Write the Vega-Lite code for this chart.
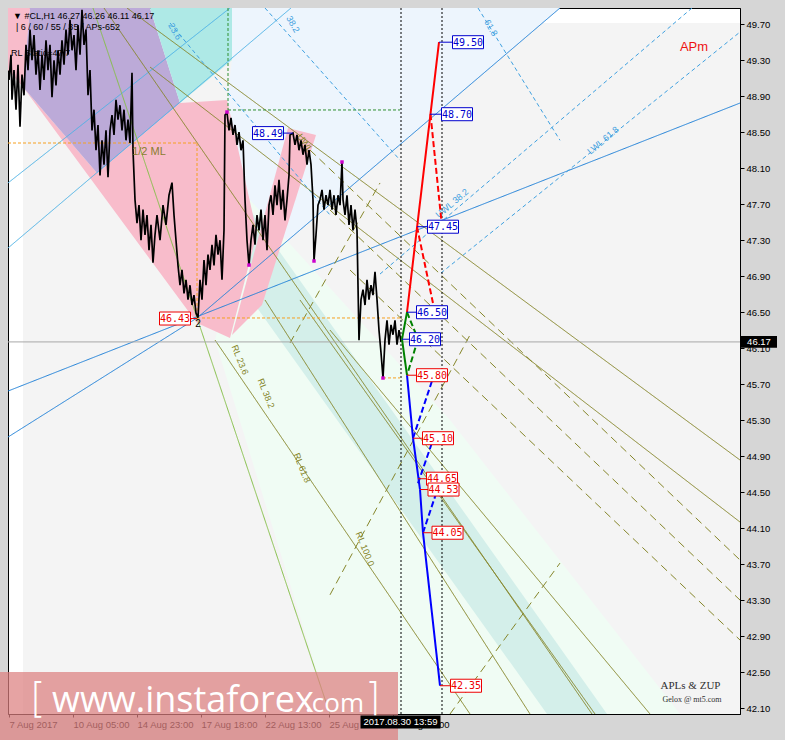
{
"$schema": "https://vega.github.io/schema/vega-lite/v6.json",
"width": 732, "height": 706,
"autosize": "none",
"padding": {"left": 8, "top": 8, "right": 45, "bottom": 26},
"background": "#d6d6d6",
"config": {"view": {"fill": "#ffffff", "stroke": "#000000", "strokeWidth": 1}, "font": "Liberation Sans"},
"resolve": {"scale": {"color": "independent", "strokeDash": "independent", "stroke": "independent"}},
"datasets": {
"bg": [{"bar": 15, "bar2": 732, "price": 49.713, "price2": 42.036}],
"polys": [
{"p":"a","z":"lblue","i":1,"bar":224,"price":49.88},{"p":"a","z":"lblue","i":2,"bar":552,"price":49.88},{"p":"a","z":"lblue","i":3,"bar":189,"price":46.436},{"p":"a","z":"lblue","i":4,"bar":249,"price":47.38},{"p":"a","z":"lblue","i":5,"bar":219,"price":48.858},{"p":"a","z":"lblue","i":6,"bar":224,"price":49.302},
{"p":"b","z":"hdew","i":1,"bar":207,"price":46.191},{"p":"b","z":"hdew","i":2,"bar":242,"price":47.747},{"p":"b","z":"hdew","i":3,"bar":442,"price":45.302},{"p":"b","z":"hdew","i":4,"bar":672,"price":42.036},{"p":"b","z":"hdew","i":5,"bar":322,"price":42.036},
{"p":"c","z":"teal","i":1,"bar":242,"price":47.636},{"p":"c","z":"teal","i":2,"bar":599,"price":42.036},{"p":"c","z":"teal","i":3,"bar":539,"price":42.036},{"p":"c","z":"teal","i":4,"bar":242,"price":46.658},
{"p":"d","z":"pink","i":1,"bar":0,"price":49.88},{"p":"d","z":"pink","i":2,"bar":22,"price":49.88},{"p":"d","z":"pink","i":3,"bar":15,"price":49.002},{"p":"d","z":"pink","i":4,"bar":0,"price":49.191},
{"p":"e","z":"pink","i":1,"bar":15,"price":49.002},{"p":"e","z":"pink","i":2,"bar":89,"price":48.047},{"p":"e","z":"pink","i":3,"bar":172,"price":48.824},{"p":"e","z":"pink","i":4,"bar":219,"price":48.858},{"p":"e","z":"pink","i":5,"bar":249,"price":47.38},{"p":"e","z":"pink","i":6,"bar":222,"price":46.213},{"p":"e","z":"pink","i":7,"bar":189,"price":46.38},
{"p":"f","z":"purple","i":1,"bar":22,"price":49.88},{"p":"f","z":"purple","i":2,"bar":142,"price":49.88},{"p":"f","z":"purple","i":3,"bar":172,"price":48.824},{"p":"f","z":"purple","i":4,"bar":89,"price":48.047},{"p":"f","z":"purple","i":5,"bar":15,"price":49.002},
{"p":"g","z":"cyan","i":1,"bar":142,"price":49.88},{"p":"g","z":"cyan","i":2,"bar":224,"price":49.88},{"p":"g","z":"cyan","i":3,"bar":224,"price":49.302},{"p":"g","z":"cyan","i":4,"bar":172,"price":48.824},
{"p":"h","z":"pink","i":1,"bar":280,"price":48.547},{"p":"h","z":"pink","i":2,"bar":308,"price":48.469},{"p":"h","z":"pink","i":3,"bar":254,"price":46.58},{"p":"h","z":"pink","i":4,"bar":224,"price":46.247}
],
"segs": [
{"k":"b","bar":0,"price":45.624,"bar2":732,"price2":48.824},
{"k":"b","bar":189,"price":46.436,"bar2":552,"price2":49.88},
{"k":"b","bar":0,"price":45.113,"bar2":189,"price2":46.436},
{"k":"c","bar":0,"price":47.936,"bar2":222,"price2":49.88},
{"k":"c","bar":0,"price":47.213,"bar2":283,"price2":49.88},
{"k":"bd","bar":372,"price":46.924,"bar2":684,"price2":49.88},
{"k":"bd","bar":433,"price":46.936,"bar2":732,"price2":49.613},
{"k":"bd","bar":162,"price":49.713,"bar2":322,"price2":47.58},
{"k":"bd","bar":257,"price":49.88,"bar2":392,"price2":48.19},
{"k":"bd","bar":470,"price":49.88,"bar2":552,"price2":48.41},
{"k":"o","bar":119,"price":49.88,"bar2":732,"price2":44.858},
{"k":"o","bar":142,"price":49.224,"bar2":732,"price2":44.169},
{"k":"o","bar":96,"price":49.88,"bar2":584,"price2":42.036},
{"k":"g","bar":85,"price":49.88,"bar2":322,"price2":42.036},
{"k":"o","bar":207,"price":46.191,"bar2":462,"price2":42.036},
{"k":"o","bar":257,"price":46.636,"bar2":522,"price2":42.036},
{"k":"o","bar":292,"price":46.636,"bar2":587,"price2":42.036},
{"k":"o","bar":322,"price":46.302,"bar2":642,"price2":42.036},
{"k":"od","bar":302,"price":48.302,"bar2":732,"price2":43.747},
{"k":"od","bar":322,"price":47.636,"bar2":732,"price2":43.302},
{"k":"od","bar":342,"price":46.969,"bar2":732,"price2":42.858},
{"k":"od","bar":322,"price":43.36,"bar2":462,"price2":46.247},
{"k":"od","bar":442,"price":42.036,"bar2":552,"price2":43.713},
{"k":"od","bar":282,"price":46.158,"bar2":372,"price2":47.936},
{"k":"or","bar":0,"price":48.38,"bar2":189,"price2":48.38},
{"k":"or","bar":189,"price":48.38,"bar2":189,"price2":46.436},
{"k":"or","bar":189,"price":46.436,"bar2":392,"price2":46.436},
{"k":"or","bar":375,"price":45.77,"bar2":392,"price2":45.77},
{"k":"gd","bar":220,"price":49.88,"bar2":220,"price2":48.747},
{"k":"gd","bar":220,"price":48.747,"bar2":392,"price2":48.747},
{"k":"k","bar":393,"price":49.88,"bar2":393,"price2":42.036},
{"k":"k","bar":434,"price":49.88,"bar2":434,"price2":42.036},
{"k":"gr","bar":0,"price":46.17,"bar2":732,"price2":46.17}
],
"px": [
{"bar":1,"price":49.08},{"bar":3,"price":49.36},{"bar":4,"price":48.86},{"bar":6,"price":49.19},{"bar":8,"price":48.75},{"bar":10,"price":49.25},{"bar":12,"price":48.56},{"bar":14,"price":49.14},{"bar":16,"price":48.91},{"bar":18,"price":49.47},{"bar":20,"price":49.19},{"bar":22,"price":49.64},{"bar":24,"price":49.30},{"bar":26,"price":49.58},{"bar":28,"price":49.14},{"bar":30,"price":49.41},{"bar":32,"price":48.97},{"bar":34,"price":49.36},{"bar":36,"price":49.08},{"bar":38,"price":49.52},{"bar":40,"price":49.19},{"bar":42,"price":49.47},{"bar":44,"price":48.89},{"bar":46,"price":49.30},{"bar":48,"price":49.02},{"bar":50,"price":49.41},{"bar":52,"price":49.14},{"bar":54,"price":49.52},{"bar":56,"price":49.25},{"bar":58,"price":49.64},{"bar":60,"price":49.36},{"bar":62,"price":49.75},{"bar":64,"price":49.41},{"bar":66,"price":49.58},{"bar":68,"price":49.19},{"bar":70,"price":49.69},{"bar":72,"price":49.36},{"bar":74,"price":49.86},{"bar":76,"price":49.47},{"bar":78,"price":49.64},{"bar":80,"price":48.91},{"bar":82,"price":49.19},{"bar":84,"price":48.52},{"bar":86,"price":48.75},{"bar":88,"price":48.30},{"bar":90,"price":48.58},{"bar":92,"price":48.02},{"bar":94,"price":48.41},{"bar":96,"price":48.14},{"bar":98,"price":48.52},{"bar":100,"price":48.00},{"bar":102,"price":48.52},{"bar":104,"price":48.69},{"bar":106,"price":48.47},{"bar":108,"price":48.86},{"bar":110,"price":48.64},{"bar":112,"price":48.80},{"bar":114,"price":48.52},{"bar":116,"price":48.75},{"bar":118,"price":48.41},{"bar":120,"price":48.64},{"bar":122,"price":48.38},{"bar":124,"price":49.16},{"bar":125,"price":48.30},{"bar":127,"price":47.75},{"bar":129,"price":47.49},{"bar":131,"price":47.69},{"bar":133,"price":47.30},{"bar":135,"price":47.64},{"bar":137,"price":47.36},{"bar":139,"price":47.58},{"bar":141,"price":47.19},{"bar":143,"price":47.47},{"bar":145,"price":47.05},{"bar":147,"price":47.36},{"bar":149,"price":47.58},{"bar":152,"price":47.30},{"bar":155,"price":47.69},{"bar":158,"price":47.47},{"bar":161,"price":47.80},{"bar":164,"price":47.94},{"bar":166,"price":47.58},{"bar":168,"price":47.30},{"bar":170,"price":47.02},{"bar":172,"price":46.80},{"bar":174,"price":46.97},{"bar":176,"price":46.71},{"bar":178,"price":46.86},{"bar":180,"price":46.64},{"bar":182,"price":46.80},{"bar":184,"price":46.58},{"bar":186,"price":46.69},{"bar":188,"price":46.49},{"bar":190,"price":46.44},{"bar":192,"price":46.86},{"bar":194,"price":46.64},{"bar":196,"price":47.08},{"bar":198,"price":46.80},{"bar":200,"price":47.14},{"bar":202,"price":46.97},{"bar":204,"price":47.25},{"bar":206,"price":47.02},{"bar":208,"price":47.36},{"bar":210,"price":47.14},{"bar":212,"price":47.30},{"bar":214,"price":46.86},{"bar":216,"price":47.41},{"bar":217,"price":48.69},{"bar":219,"price":48.72},{"bar":221,"price":48.52},{"bar":223,"price":48.66},{"bar":225,"price":48.47},{"bar":227,"price":48.58},{"bar":229,"price":48.36},{"bar":231,"price":48.50},{"bar":233,"price":48.30},{"bar":235,"price":48.41},{"bar":237,"price":47.75},{"bar":239,"price":47.30},{"bar":241,"price":47.02},{"bar":243,"price":47.30},{"bar":245,"price":47.47},{"bar":247,"price":47.25},{"bar":249,"price":47.58},{"bar":251,"price":47.41},{"bar":253,"price":47.64},{"bar":255,"price":47.30},{"bar":257,"price":47.58},{"bar":259,"price":47.19},{"bar":261,"price":47.69},{"bar":263,"price":47.80},{"bar":265,"price":47.58},{"bar":267,"price":47.91},{"bar":269,"price":47.69},{"bar":271,"price":47.97},{"bar":273,"price":47.64},{"bar":275,"price":47.86},{"bar":277,"price":47.52},{"bar":279,"price":47.75},{"bar":281,"price":48.02},{"bar":282,"price":48.47},{"bar":285,"price":48.49},{"bar":287,"price":48.36},{"bar":289,"price":48.47},{"bar":291,"price":48.30},{"bar":293,"price":48.41},{"bar":295,"price":48.25},{"bar":297,"price":48.36},{"bar":299,"price":48.14},{"bar":301,"price":48.30},{"bar":303,"price":48.14},{"bar":305,"price":47.75},{"bar":306,"price":47.07},{"bar":308,"price":47.36},{"bar":310,"price":47.69},{"bar":312,"price":47.75},{"bar":314,"price":47.86},{"bar":316,"price":47.64},{"bar":318,"price":47.80},{"bar":320,"price":47.69},{"bar":322,"price":47.86},{"bar":324,"price":47.64},{"bar":326,"price":47.80},{"bar":328,"price":47.58},{"bar":330,"price":47.80},{"bar":332,"price":47.69},{"bar":334,"price":48.17},{"bar":335,"price":47.75},{"bar":337,"price":47.58},{"bar":339,"price":47.80},{"bar":341,"price":47.47},{"bar":343,"price":47.69},{"bar":345,"price":47.41},{"bar":347,"price":47.64},{"bar":349,"price":47.41},{"bar":351,"price":46.19},{"bar":353,"price":46.64},{"bar":355,"price":46.75},{"bar":357,"price":46.58},{"bar":359,"price":46.86},{"bar":361,"price":46.64},{"bar":363,"price":46.80},{"bar":365,"price":46.69},{"bar":367,"price":46.95},{"bar":369,"price":46.64},{"bar":371,"price":46.30},{"bar":373,"price":46.05},{"bar":375,"price":45.77},{"bar":377,"price":46.19},{"bar":379,"price":46.41},{"bar":381,"price":46.14},{"bar":383,"price":46.36},{"bar":385,"price":46.25},{"bar":387,"price":46.41},{"bar":389,"price":46.14},{"bar":391,"price":46.30},{"bar":393,"price":46.17}
],
"zz": [
{"c":"red","d":"s","bar":399,"price":46.50,"bar2":431,"price2":49.50},
{"c":"red","d":"d","bar":422.5,"price":48.70,"bar2":434,"price2":47.45},
{"c":"red","d":"d","bar":409,"price":47.45,"bar2":425,"price2":46.60},
{"c":"green","d":"s","bar":399,"price":46.50,"bar2":394,"price2":46.20},
{"c":"green","d":"s","bar":394,"price":46.20,"bar2":399,"price2":45.80},
{"c":"green","d":"d","bar":399,"price":46.50,"bar2":410,"price2":46.20},
{"c":"green","d":"d","bar":410,"price":46.20,"bar2":399,"price2":45.80},
{"c":"blue","d":"s","bar":399,"price":45.80,"bar2":405,"price2":45.10},
{"c":"blue","d":"s","bar":405,"price":45.10,"bar2":412,"price2":44.53},
{"c":"blue","d":"s","bar":412,"price":44.53,"bar2":415,"price2":44.05},
{"c":"blue","d":"s","bar":415,"price":44.05,"bar2":432,"price2":42.35},
{"c":"blue","d":"d","bar":405,"price":45.10,"bar2":425,"price2":45.77},
{"c":"blue","d":"d","bar":410,"price":44.60,"bar2":424,"price2":45.05},
{"c":"blue","d":"d","bar":415,"price":44.05,"bar2":430,"price2":44.55}
],
"lab": [
{"t":"49.50","c":"blue","pbar":431,"bar":460,"price":49.50},
{"t":"48.70","c":"blue","pbar":422,"bar":449,"price":48.70},
{"t":"47.45","c":"blue","pbar":409,"bar":435,"price":47.45},
{"t":"46.50","c":"blue","pbar":399,"bar":424,"price":46.50},
{"t":"46.20","c":"blue","pbar":394,"bar":417,"price":46.20},
{"t":"48.49","c":"blue","pbar":285,"bar":260,"price":48.49},
{"t":"45.80","c":"red","pbar":399,"bar":424,"price":45.80},
{"t":"45.10","c":"red","pbar":405,"bar":430,"price":45.10},
{"t":"44.65","c":"red","pbar":410,"bar":434,"price":44.65},
{"t":"44.53","c":"red","pbar":412,"bar":435.5,"price":44.53},
{"t":"44.05","c":"red","pbar":415,"bar":439.5,"price":44.05},
{"t":"42.35","c":"red","pbar":432,"bar":458,"price":42.35},
{"t":"46.43","c":"red","pbar":189,"bar":167,"price":46.43}
],
"mg": [{"bar":219,"price":48.724},{"bar":241,"price":47.024},{"bar":306,"price":47.069},{"bar":334,"price":48.169},{"bar":375,"price":45.769}],
"cur": [{"bar":751,"price":46.17,"t":"46.17"}],
"dt": [{"bar":392.5,"price":41.947,"t":"2017.08.30 13:59"}],
"txt": [
{"g":"hdr","bar":5,"price":49.79,"t":"▼ #CL,H1  46.27 46.26 46.11 46.17"},
{"g":"hdr","bar":8,"price":49.67,"t":"| 6 / 60 / 55 / 35 / APs-652"},
{"g":"hdr","bar":3,"price":49.38,"t":"RL Static=47.7"},
{"g":"apm","bar":686,"price":49.45,"t":"APm"},
{"g":"sig","bar":682.5,"price":42.347,"t":"APLs & ZUP"},
{"g":"sig2","bar":684,"price":42.191,"t":"Gelox @ mt5.com"},
{"g":"ml","bar":141,"price":48.28,"t":"1/2 ML"},
{"g":"piv","bar":190,"price":46.37,"t":"2"}
],
"rot": [
{"g":"ol","bar":232,"price":45.97,"t":"RL 23.6"},
{"g":"ol","bar":258,"price":45.6,"t":"RL 38.2"},
{"g":"ol","bar":294,"price":44.77,"t":"RL 61.8"},
{"g":"ol","bar":357,"price":43.87,"t":"RL 100.0"},
{"g":"ol2","bar":297,"price":48.38,"t":"UWL"},
{"g":"bl","bar":444,"price":47.71,"t":"UWL 38.2"},
{"g":"bl","bar":595,"price":48.41,"t":"LWL 61.8"},
{"g":"bl2","bar":167,"price":49.62,"t":"23.6"},
{"g":"bl2","bar":285,"price":49.70,"t":"38.2"},
{"g":"bl2","bar":483,"price":49.66,"t":"61.8"}
],
"wm": [{"bar":-8,"bar2":390,"price":42.502,"price2":41.747}],
"wmt": [
{"g":"br","bar":22,"price":42.06,"t":"["},
{"g":"big","bar":44,"price":42.06,"t":"www.instaforex"},
{"g":"com","bar":297,"price":42.06,"t":".com"},
{"g":"br","bar":357,"price":42.06,"t":"]"}
]
},
"encoding": {
"x": {"field": "bar", "type": "quantitative", "scale": {"domain": [0, 732], "nice": false, "zero": false},
 "axis": {"orient": "bottom", "values": [1, 65, 129, 193, 257, 321, 385], "labelExpr": "datum.value==1?'7 Aug 2017':datum.value==65?'10 Aug 05:00':datum.value==129?'14 Aug 23:00':datum.value==193?'17 Aug 18:00':datum.value==257?'22 Aug 13:00':datum.value==321?'25 Aug 08:00':'29 Aug 03:00'", "labelAlign": "left", "labelFont": "Liberation Sans", "labelFontSize": 9.5, "labelColor": "#000000", "tickColor": "#000000", "tickSize": 3, "labelPadding": 2, "domainColor": "#000000", "grid": false, "title": null, "labelOverlap": false, "labelFlush": false}},
"y": {"field": "price", "type": "quantitative", "scale": {"domain": [42.036, 49.88], "nice": false, "zero": false},
 "axis": {"orient": "right", "values": [42.1,42.5,42.9,43.3,43.7,44.1,44.5,44.9,45.3,45.7,46.1,46.5,46.9,47.3,47.7,48.1,48.5,48.9,49.3,49.7], "format": ".2f", "labelFont": "Liberation Sans", "labelFontSize": 9.5, "labelColor": "#000000", "tickColor": "#000000", "tickSize": 4, "labelPadding": 2, "domainColor": "#000000", "grid": false, "title": null, "labelOverlap": false, "labelFlush": false}}
},
"layer": [
{"data": {"name": "bg"}, "mark": {"type": "rect", "fill": "#f4f4f4"}, "encoding": {"x2": {"field": "bar2"}, "y2": {"field": "price2"}}},
{"data": {"name": "polys"}, "mark": {"type": "line", "filled": true, "clip": true, "strokeWidth": 0}, "encoding": {"color": {"field": "z", "type": "nominal", "scale": {"domain": ["lblue","hdew","teal","pink","purple","cyan"], "range": ["#edf5fd","#f0fcf4","#d4efea","#f8bccb","#bcaad8","#aee9e6"]}, "legend": null}, "detail": {"field": "p"}, "order": {"field": "i"}}},
{"data": {"name": "segs"}, "mark": {"type": "rule", "clip": true, "strokeWidth": 1}, "encoding": {"x2": {"field": "bar2"}, "y2": {"field": "price2"}, "color": {"field": "k", "type": "nominal", "scale": {"domain": ["b","c","bd","o","od","g","or","gd","k","gr"], "range": ["#1e80d8","#4cb2e6","#3ea0e0","#86862a","#86862a","#86c04a","#f5a020","#2f8f2f","#000000","#a8a8a8"]}, "legend": null}, "strokeDash": {"field": "k", "type": "nominal", "scale": {"domain": ["b","c","bd","o","od","g","or","gd","k","gr"], "range": [[1,0],[1,0],[4,3],[1,0],[8,5],[1,0],[3,2],[3,2],[2,2],[1,0]]}, "legend": null}}},
{"data": {"name": "rot"}, "transform": [{"filter": "datum.g=='ol'"}], "mark": {"type": "text", "font": "Liberation Sans", "fontSize": 9, "color": "#86862a", "angle": 68, "align": "center", "baseline": "middle"}, "encoding": {"text": {"field": "t"}}},
{"data": {"name": "rot"}, "transform": [{"filter": "datum.g=='ol2'"}], "mark": {"type": "text", "font": "Liberation Sans", "fontSize": 9, "color": "#86862a", "angle": 55, "align": "center", "baseline": "middle"}, "encoding": {"text": {"field": "t"}}},
{"data": {"name": "rot"}, "transform": [{"filter": "datum.g=='bl'"}], "mark": {"type": "text", "font": "Liberation Sans", "fontSize": 9, "color": "#3ea0e0", "angle": 320, "align": "center", "baseline": "middle"}, "encoding": {"text": {"field": "t"}}},
{"data": {"name": "rot"}, "transform": [{"filter": "datum.g=='bl2'"}], "mark": {"type": "text", "font": "Liberation Sans", "fontSize": 9, "color": "#3ea0e0", "angle": 60, "align": "center", "baseline": "middle"}, "encoding": {"text": {"field": "t"}}},
{"data": {"name": "px"}, "mark": {"type": "line", "color": "#000000", "strokeWidth": 1.7, "clip": true}},
{"data": {"name": "mg"}, "mark": {"type": "point", "shape": "square", "filled": true, "size": 12, "color": "#cc00cc", "opacity": 1}},
{"data": {"name": "zz"}, "mark": {"type": "rule", "strokeWidth": 2}, "encoding": {"x2": {"field": "bar2"}, "y2": {"field": "price2"}, "color": {"field": "c", "type": "nominal", "scale": {"domain": ["red","green","blue"], "range": ["#ff0000","#008000","#0000ff"]}, "legend": null}, "strokeDash": {"field": "d", "type": "nominal", "scale": {"domain": ["s","d"], "range": [[1,0],[6,3]]}, "legend": null}}},
{"data": {"name": "lab"}, "mark": {"type": "rule", "strokeWidth": 1}, "encoding": {"x2": {"field": "pbar"}, "color": {"field": "c", "type": "nominal", "scale": {"domain": ["blue","red"], "range": ["#0000cd","#ee0000"]}, "legend": null}}},
{"data": {"name": "lab"}, "mark": {"type": "point", "shape": "M-1,-0.42L1,-0.42L1,0.42L-1,0.42Z", "size": 961, "filled": false, "fill": "#ffffff", "fillOpacity": 1, "strokeWidth": 1, "opacity": 1}, "encoding": {"stroke": {"field": "c", "type": "nominal", "scale": {"domain": ["blue","red"], "range": ["#0000cd","#ee0000"]}, "legend": null}}},
{"data": {"name": "lab"}, "mark": {"type": "text", "font": "DejaVu Sans Mono", "fontSize": 10, "align": "center", "baseline": "middle", "dy": 0.5}, "encoding": {"text": {"field": "t"}, "color": {"field": "c", "type": "nominal", "scale": {"domain": ["blue","red"], "range": ["#0000cd","#ee0000"]}, "legend": null}}},
{"data": {"name": "cur"}, "mark": {"type": "point", "shape": "M-1,-0.33L1,-0.33L1,0.33L-1,0.33Z", "size": 1296, "filled": true, "color": "#000000", "opacity": 1}},
{"data": {"name": "cur"}, "mark": {"type": "text", "font": "Liberation Sans", "fontSize": 9.5, "color": "#ffffff", "align": "center", "baseline": "middle"}, "encoding": {"text": {"field": "t"}}},
{"data": {"name": "txt"}, "transform": [{"filter": "datum.g=='hdr'"}], "mark": {"type": "text", "font": "Liberation Sans", "fontSize": 9, "color": "#000000", "align": "left", "baseline": "middle"}, "encoding": {"text": {"field": "t"}}},
{"data": {"name": "txt"}, "transform": [{"filter": "datum.g=='apm'"}], "mark": {"type": "text", "font": "Liberation Sans", "fontSize": 13, "color": "#ee1111", "align": "center", "baseline": "middle"}, "encoding": {"text": {"field": "t"}}},
{"data": {"name": "txt"}, "transform": [{"filter": "datum.g=='sig'"}], "mark": {"type": "text", "font": "Liberation Serif", "fontSize": 11, "color": "#303030", "align": "center", "baseline": "middle"}, "encoding": {"text": {"field": "t"}}},
{"data": {"name": "txt"}, "transform": [{"filter": "datum.g=='sig2'"}], "mark": {"type": "text", "font": "Liberation Serif", "fontSize": 8, "color": "#303030", "align": "center", "baseline": "middle"}, "encoding": {"text": {"field": "t"}}},
{"data": {"name": "txt"}, "transform": [{"filter": "datum.g=='ml'"}], "mark": {"type": "text", "font": "Liberation Sans", "fontSize": 11, "color": "#8a7d30", "align": "center", "baseline": "middle"}, "encoding": {"text": {"field": "t"}}},
{"data": {"name": "txt"}, "transform": [{"filter": "datum.g=='piv'"}], "mark": {"type": "text", "font": "Liberation Sans", "fontSize": 10, "color": "#000000", "align": "center", "baseline": "middle"}, "encoding": {"text": {"field": "t"}}},
{"data": {"name": "wm"}, "mark": {"type": "rect", "fill": "#dc7f7f", "opacity": 0.72}, "encoding": {"x2": {"field": "bar2"}, "y2": {"field": "price2"}}},
{"data": {"name": "wmt"}, "transform": [{"filter": "datum.g=='br'"}], "mark": {"type": "text", "font": "DejaVu Sans", "fontSize": 40, "fontWeight": 200, "color": "#ffffff", "align": "left", "baseline": "alphabetic"}, "encoding": {"text": {"field": "t"}}},
{"data": {"name": "wmt"}, "transform": [{"filter": "datum.g=='big'"}], "mark": {"type": "text", "font": "Open Sans", "fontSize": 36, "color": "#ffffff", "align": "left", "baseline": "alphabetic"}, "encoding": {"text": {"field": "t"}}},
{"data": {"name": "wmt"}, "transform": [{"filter": "datum.g=='com'"}], "mark": {"type": "text", "font": "Open Sans", "fontSize": 26, "color": "#ffffff", "align": "left", "baseline": "alphabetic"}, "encoding": {"text": {"field": "t"}}},
{"data": {"name": "dt"}, "mark": {"type": "point", "shape": "M-1,-0.1625L1,-0.1625L1,0.1625L-1,0.1625Z", "size": 6400, "filled": true, "color": "#000000", "opacity": 1}},
{"data": {"name": "dt"}, "mark": {"type": "text", "font": "Liberation Sans", "fontSize": 9.5, "color": "#ffffff", "align": "center", "baseline": "middle"}, "encoding": {"text": {"field": "t"}}}
]
}
